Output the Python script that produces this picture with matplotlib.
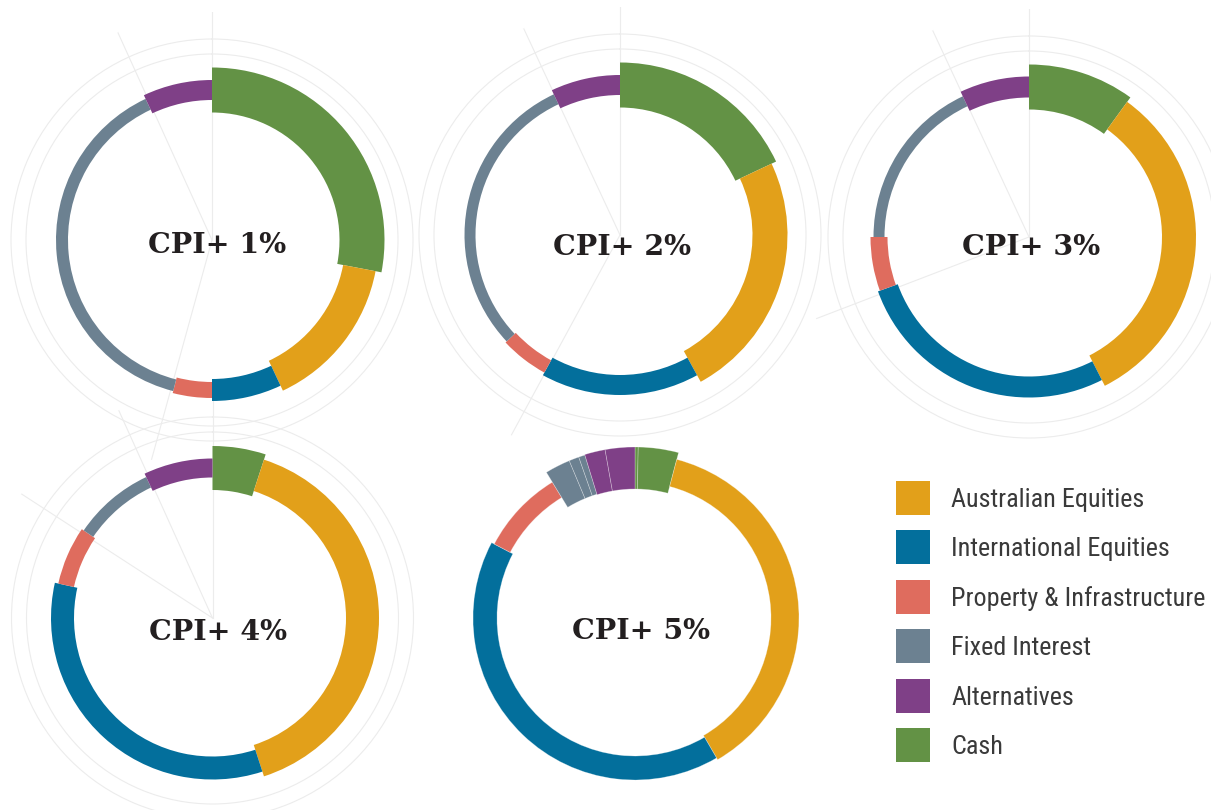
import numpy as np
import matplotlib
matplotlib.use("Agg")
import matplotlib.pyplot as plt
from matplotlib.patches import Patch
from matplotlib.ticker import NullFormatter

# ── Data ───────────────────────────────────────────────────────────────────────
classes = ["Australian Equities", "International Equities", "Property & Infrastructure",
           "Fixed Interest", "Alternatives", "Cash"]
colors = {
    "Australian Equities":       "#e2a01a",
    "International Equities":    "#036f9c",
    "Property & Infrastructure": "#df6c5e",
    "Fixed Interest":            "#6c8191",
    "Alternatives":              "#7f4087",
    "Cash":                      "#639245",
}

# ring order, clockwise from 12 o'clock
ring_order = ["Cash", "Australian Equities", "International Equities",
              "Property & Infrastructure", "Fixed Interest", "Alternatives"]

cpi1_alloc = [28, 15, 7, 4, 39, 7]
cpi1_width = [45, 33, 22, 16, 12, 20]
cpi2_alloc = [18, 24, 16, 5, 30, 7]
cpi2_width = [45, 35, 20, 14, 11, 20]
cpi3_alloc = [10, 32.5, 27, 5.5, 18, 7]
cpi3_width = [45, 34, 21, 17, 11, 21]
cpi4_alloc = [5, 40, 33.5, 6, 8.5, 7]
cpi4_width = [44, 33, 23, 16, 11.5, 19]

# CPI+5 has split sleeves
cpi5_class = ["Cash", "Cash", "Australian Equities", "International Equities",
              "Property & Infrastructure", "Fixed Interest", "Fixed Interest",
              "Fixed Interest", "Alternatives", "Alternatives"]
cpi5_alloc = [0.3, 3.8, 37.5, 41.1, 8.6, 2.4, 0.95, 0.6, 1.95, 2.8]
cpi5_width = [42, 42, 28, 24, 18, 41, 41, 41, 42, 42]

labels = ["CPI+ 1%", "CPI+ 2%", "CPI+ 3%", "CPI+ 4%", "CPI+ 5%"]

# ── Layout (pixels) ────────────────────────────────────────────────────────────
W, H = 1211, 810
R_MID = 150
RMAX = 228
GRID = "#ececec"

centers = [(212, 240), (620, 235), (1029, 237), (212.5, 618), (635, 618)]
label_xy = [(217.5, 253), (622.5, 255), (1031, 255), (218, 640), (641.5, 639)]
grid_angles = [[0, 195.4, 335.6], [0, 208.5, 335], [0, 249, 335], [0, 303, 335.7], []]

fig = plt.figure(figsize=(W / 100, H / 100), dpi=100)
fig.patch.set_facecolor("white")


def polar_ax(center, z):
    cx, cy = center
    ax = fig.add_axes([(cx - RMAX) / W, (H - cy - RMAX) / H, 2 * RMAX / W, 2 * RMAX / H],
                      projection="polar", zorder=z)
    ax.set_facecolor("none")
    ax.set_theta_zero_location("N")
    ax.set_theta_direction(-1)
    ax.set_rlim(0, RMAX)
    ax.xaxis.set_major_formatter(NullFormatter())
    ax.yaxis.set_major_formatter(NullFormatter())
    ax.tick_params(length=0)
    ax.spines["polar"].set_visible(False)
    return ax


def grid_layer(center, angles):
    ax = polar_ax(center, 0)
    if angles:
        ax.set_thetagrids(angles)
        ax.set_rgrids([186, 201])
        ax.grid(True, color=GRID, linewidth=0.8)
    else:
        ax.grid(False)
        ax.set_xticks([])
        ax.set_yticks([])


def ring(center, cls, alloc, width, edge=False):
    ax = polar_ax(center, 1)
    theta = 2 * np.pi * np.array(alloc) / sum(alloc)
    start = np.concatenate([[0], np.cumsum(theta)[:-1]])
    w = np.array(width, dtype=float)
    ax.bar(start, w, width=theta, bottom=R_MID - w / 2, align="edge",
           color=[colors[c] for c in cls],
           edgecolor=(1, 1, 1, 0.35) if edge else "none",
           linewidth=0.5 if edge else 0)
    ax.set_rlim(0, RMAX)
    ax.grid(False)
    ax.set_xticks([])
    ax.set_yticks([])


# faint polar grid underneath everything
for c, a in zip(centers, grid_angles):
    grid_layer(c, a)

ring(centers[0], ring_order, cpi1_alloc, cpi1_width)
ring(centers[1], ring_order, cpi2_alloc, cpi2_width)
ring(centers[2], ring_order, cpi3_alloc, cpi3_width)
ring(centers[3], ring_order, cpi4_alloc, cpi4_width)
ring(centers[4], cpi5_class, cpi5_alloc, cpi5_width, edge=True)

for (lx, ly), lab in zip(label_xy, labels):
    fig.text(lx / W, 1 - ly / H, lab, ha="center", va="baseline",
             fontsize=20.5, fontweight="bold", family="DejaVu Serif", color="#231f20")

# ── Legend ─────────────────────────────────────────────────────────────────────
LEG_FAMILY = ["Roboto Condensed", "Liberation Sans Narrow", "Roboto"]
BOX = 34        # square size, px
ROW = 49.5      # row pitch, px
TEXT_W = 254    # width of the longest label, px


def make_legend(fs):
    fpx = fs * 100 / 72
    hh = (BOX / fpx - 0.245) / 0.65          # undo legend's descent trimming
    handles = [Patch(facecolor=colors[c], edgecolor="none", label=c) for c in classes]
    leg = fig.legend(handles=handles, loc="upper left",
                     bbox_to_anchor=(896 / W, 1 - 481 / H), bbox_transform=fig.transFigure,
                     frameon=False, borderpad=0, borderaxespad=0,
                     handleheight=hh, handlelength=BOX / fpx,
                     labelspacing=(ROW - BOX) / fpx, handletextpad=21 / fpx,
                     prop={"family": LEG_FAMILY, "size": fs})
    for t in leg.get_texts():
        t.set_color("#3a3a3a")
    return leg


fs = 17.0
leg = make_legend(fs)
fig.canvas.draw()
longest = max(t.get_window_extent().width for t in leg.get_texts())
leg.remove()
fs = min(20.0, fs * TEXT_W / longest)
make_legend(fs)

fig.savefig("out.png", dpi=100)
